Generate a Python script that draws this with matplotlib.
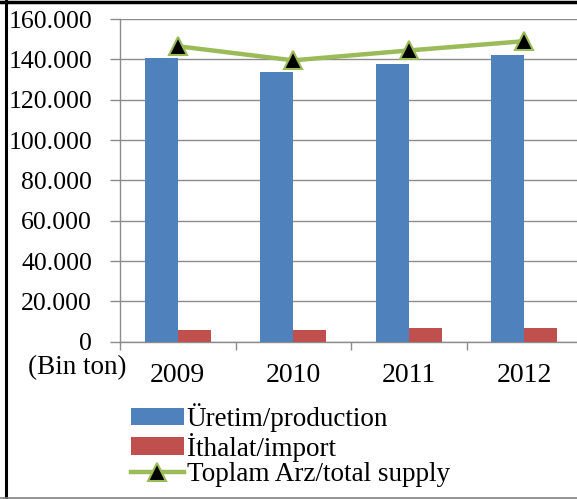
import numpy as np
import matplotlib
matplotlib.use("Agg")
import matplotlib.pyplot as plt
from matplotlib.lines import Line2D
from matplotlib.ticker import FuncFormatter

years = ["2009", "2010", "2011", "2012"]
production = [140500, 133500, 137800, 142300]   # Üretim
imports = [5900, 5900, 6600, 6600]              # İthalat
total_supply = [146500, 139500, 144400, 149000] # Toplam Arz

plt.rcParams['font.family'] = ['Liberation Serif', 'DejaVu Serif']
fs = 19.5

W, H = 577, 499
fig = plt.figure(figsize=(W / 100, H / 100), dpi=100)
# axes in pixel terms: left 120, right 582 (cropped), top 19, bottom 341.7
ax = fig.add_axes([120 / W, 1 - 341.7 / H, 462 / W, (341.7 - 19) / H])

x = np.arange(len(years))
bw = 0.286
ax.bar(x - bw / 2, production, bw, color='#4F81BD', label='Üretim/production', zorder=3)
ax.bar(x + bw / 2, imports, bw, color='#C0504D', label='İthalat/import', zorder=3)
ax.plot(x, total_supply, color='#9BBB59', lw=3.2, marker='^', ms=13,
        mfc='black', mec='#9BBB59', mew=1.5, label='Toplam Arz/total supply', zorder=4)

ax.set_xlim(-0.5, 3.5)
ax.set_ylim(0, 160000)
ax.set_yticks(np.arange(0, 160001, 20000))
ax.yaxis.set_major_formatter(FuncFormatter(lambda v, p: f"{int(v):,}".replace(",", ".")))
ax.grid(axis='y', color='#8c8c8c', lw=1, zorder=0)
ax.set_xticks(x)
ax.set_xticklabels(years, fontsize=20)
ax.set_xticks(np.arange(-0.5, 4, 1), minor=True)
ax.tick_params(axis='x', which='major', length=0, pad=15)
ax.tick_params(axis='x', which='minor', length=6, color='#8c8c8c', width=1)
ax.tick_params(axis='y', length=7, color='#8c8c8c', width=1, labelsize=18.5, pad=13)
for s in ['top', 'right']:
    ax.spines[s].set_visible(False)
for s in ['left', 'bottom']:
    ax.spines[s].set_color('#8c8c8c')
    ax.spines[s].set_linewidth(1)

fig.text(28 / W, 1 - 368 / H, "(Bin ton)", fontsize=fs, ha='left', va='center')

# legend: bars first, then the line
handles, labels = ax.get_legend_handles_labels()
order = [1, 2, 0]
fig.legend([handles[i] for i in order], [labels[i] for i in order],
           loc='upper left', bbox_to_anchor=(131 / W, 1 - 403 / H), frameon=False,
           fontsize=fs, handlelength=1.95, handletextpad=0.1, labelspacing=0.03,
           borderpad=0, borderaxespad=0, handleheight=0.6)

# outer frame (cropped on the right)
fig.add_artist(Line2D([6 / W, 6 / W], [0, 1], color='black', lw=2.2, transform=fig.transFigure))
fig.add_artist(Line2D([0, 1], [1 - 1.5 / H, 1 - 1.5 / H], color='black', lw=2.5, transform=fig.transFigure))
fig.add_artist(Line2D([0, 1], [1 - 497.5 / H, 1 - 497.5 / H], color='#808080', lw=1.2, transform=fig.transFigure))

fig.savefig("out.png", dpi=100)
